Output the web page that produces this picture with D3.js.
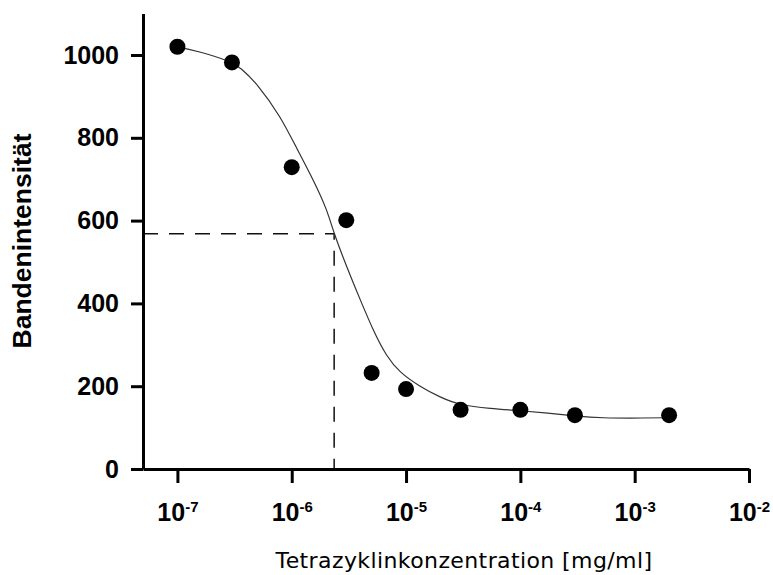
<!DOCTYPE html>
<html>

<head>
    <meta charset="utf-8" />
    <title>Bandenintensität vs Tetrazyklinkonzentration</title>
    <style>
        body {
            margin: 0;
            background: #fff;
        }

        svg text {
            font-family: "Liberation Sans", Arial, sans-serif;
        }
    </style>
</head>

<body>
    <svg></svg>

    <script src="https://d3js.org/d3.v7.min.js"></script>
    <script>
        // Messpunkte
        var concentrations = [1e-7, 3e-7, 1e-6, 3e-6, 5e-6, 1e-5, 3e-5, 1e-4, 3e-4, 2e-3];
        var intensities = [1020, 982, 729, 601, 232, 193, 143, 143, 130, 130];

        // Fitkurve (log10 der Konzentration)
        var fitLogConc = [-7.00, -6.80, -6.53, -6.45, -6.30, -6.10, -5.95, -5.81, -5.69, -5.63, -5.52, -5.40, -5.28,
            -5.17, -5.06, -4.88, -4.70, -4.53, -4.26, -4.01, -3.76, -3.52, -3.30, -2.90, -2.70];
        var fitIntensity = [1020, 1008, 984, 970, 930, 853, 771, 698, 626, 568, 489, 408, 330,
            272, 234, 199, 173, 154, 146, 141, 135, 128, 123, 123, 124];

        // IC50-Markierung
        var ic50Conc = 2.35e-6;
        var ic50Intensity = 568;

        // Achsen
        var xTicks = [1e-7, 1e-6, 1e-5, 1e-4, 1e-3, 1e-2];
        var yTicks = [0, 200, 400, 600, 800, 1000];
        var xDomain = [5e-8, 1e-2];
        var yDomain = [0, 1100];

        let width = 773, height = 575;

        let svg = d3.select("svg")
            .attr("width", width)
            .attr("height", height);

        var x = d3.scaleLog()
            .domain(xDomain)
            .range([143, 749]);

        var y = d3.scaleLinear()
            .domain(yDomain)
            .range([469, 13.6]);

        // dashed IC50 lines
        svg.append("path")
            .attr("d", "M" + x(xDomain[0]) + "," + y(ic50Intensity) + "H" + x(ic50Conc) + "V" + y(0))
            .attr("fill", "none")
            .attr("stroke", "#111")
            .attr("stroke-width", 1.5)
            .attr("stroke-dasharray", "15,11");

        // fit curve
        var fitData = fitLogConc.map(function (d, i) { return [Math.pow(10, d), fitIntensity[i]]; });
        var line = d3.line()
            .x(function (d) { return x(d[0]); })
            .y(function (d) { return y(d[1]); })
            .curve(d3.curveBasis);

        svg.append("path")
            .datum(fitData)
            .attr("d", line)
            .attr("fill", "none")
            .attr("stroke", "#333")
            .attr("stroke-width", 1.2);

        // data points
        svg.append("g")
            .selectAll("circle")
            .data(concentrations)
            .enter()
            .append("circle")
            .attr("cx", function (d) { return x(d); })
            .attr("cy", function (d, i) { return y(intensities[i]); })
            .attr("r", 8)
            .attr("fill", "#000");

        // y axis
        let yAxis = svg.append("g")
            .attr("transform", "translate(" + x(xDomain[0]) + ",0)")
            .call(d3.axisLeft(y).tickValues(yTicks).tickSize(12).tickSizeOuter(0).tickPadding(12)
                .tickFormat(d3.format("d")));

        yAxis.select(".domain").attr("stroke-width", 3);
        yAxis.selectAll(".tick line").attr("stroke-width", 3);
        yAxis.selectAll(".tick text")
            .attr("font-size", "25px")
            .attr("font-weight", "bold")
            .attr("fill", "#000");

        // x axis
        let xAxis = svg.append("g")
            .attr("transform", "translate(0," + y(0) + ")")
            .call(d3.axisBottom(x).tickValues(xTicks).tickSize(14).tickSizeOuter(0).tickFormat(""));

        xAxis.select(".domain").attr("stroke-width", 3);
        xAxis.selectAll(".tick line").attr("stroke-width", 3);

        let xLabels = xAxis.selectAll(".tick")
            .append("text")
            .attr("y", 52)
            .attr("text-anchor", "middle")
            .attr("fill", "#000")
            .attr("font-weight", "bold");

        xLabels.append("tspan")
            .attr("font-size", "25px")
            .text("10");

        xLabels.append("tspan")
            .attr("font-size", "15px")
            .attr("dy", -9)
            .text(function (d) { return Math.round(Math.log10(d)); });

        // axis titles
        svg.append("text")
            .attr("transform", "translate(31,241) rotate(-90)")
            .attr("text-anchor", "middle")
            .attr("font-size", "26.5px")
            .attr("font-weight", "bold")
            .text("Bandenintensität");

        svg.append("text")
            .attr("x", 464)
            .attr("y", 568)
            .attr("text-anchor", "middle")
            .style("font-family", "'DejaVu Sans', sans-serif")
            .style("letter-spacing", "0.4px")
            .attr("font-size", "22px")
            .text("Tetrazyklinkonzentration [mg/ml]");
    </script>
</body>

</html>
